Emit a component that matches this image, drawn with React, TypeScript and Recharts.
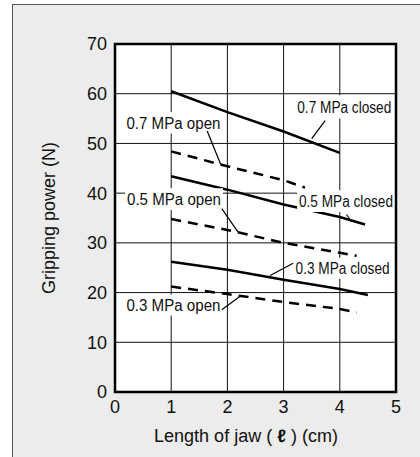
import React from 'react';
import {
  LineChart,
  Line,
  XAxis,
  YAxis,
  CartesianGrid,
  ReferenceArea,
  ReferenceLine,
} from 'recharts';

// jaw length (cm) and gripping power (N) for each curve
const len07Closed = [1, 2, 3, 4];
const pow07Closed = [60.5, 56.3, 52.4, 48.1];
const len07Open = [1, 2, 3, 3.38];
const pow07Open = [48.4, 45.4, 42.6, 41.1];
const len05Closed = [1, 2, 3, 4, 4.45];
const pow05Closed = [43.4, 40.7, 37.7, 35.2, 33.7];
const len05Open = [1, 2, 3, 4, 4.3];
const pow05Open = [34.8, 32.6, 30.0, 28.0, 27.4];
const len03Closed = [1, 2, 3, 4, 4.5];
const pow03Closed = [26.2, 24.6, 22.6, 20.7, 19.5];
const len03Open = [1, 2, 3, 4, 4.3];
const pow03Open = [21.2, 19.7, 18.1, 16.7, 16.0];

const xTicks = [0, 1, 2, 3, 4, 5];
const yTicks = [0, 10, 20, 30, 40, 50, 60, 70];

// note boxes: text, x range, y range, leader line from -> to
const notes = [
  { text: '0.7 MPa closed', x: [3.2, 4.96], y: [59.7, 55.0], lead: [[3.74, 54.6], [3.5, 50.95]] },
  { text: '0.7 MPa open', x: [0.16, 1.92], y: [56.3, 52.0], lead: [[1.64, 52.5], [1.88, 45.8]] },
  { text: '0.5 MPa open', x: [0.18, 1.92], y: [41.0, 36.6], lead: [[1.9, 36.9], [2.19, 32.15]] },
  { text: '0.5 MPa closed', x: [3.24, 4.98], y: [40.6, 36.2], lead: [[4.12, 35.7], [4.21, 34.2]] },
  { text: '0.3 MPa closed', x: [3.17, 4.93], y: [27.0, 22.8], lead: [[3.17, 25.9], [2.76, 23.45]] },
  { text: '0.3 MPa open', x: [0.18, 1.9], y: [19.6, 15.4], lead: [[1.9, 16.55], [2.22, 19.2]] },
];

const pts = (xs: number[], ys: number[]) => xs.map((x, i) => ({ x, y: ys[i] }));

const FONT = '"Liberation Sans", Arial, Helvetica, sans-serif';

const noteLabel = (text: string) => (props: any) => {
  const { x, y, width, height } = props.viewBox;
  return (
    <text
      x={x + width / 2}
      y={y + height / 2 + 5.8}
      textAnchor="middle"
      fontSize={16}
      fontFamily={FONT}
      fill="#111"
      textLength={94}
      lengthAdjust="spacingAndGlyphs"
    >
      {text}
    </text>
  );
};

const yLabel = (props: any) => {
  const { x, y, height } = props.viewBox;
  const cx = x + 55;
  const cy = y + height / 2;
  return (
    <text x={cx} y={cy} transform={`rotate(-90, ${cx}, ${cy})`} textAnchor="middle" fontSize={18} fontFamily={FONT} fill="#111">
      Gripping power (N)
    </text>
  );
};

const xLabel = (props: any) => {
  const { x, y, width } = props.viewBox;
  return (
    <text x={x + width / 2 - 9.5} y={y + 49.5} textAnchor="middle" fontSize={18} fontFamily={FONT} fill="#111">
      {'Length of jaw ( '}
      <tspan fontWeight="bold">ℓ</tspan>
      {' ) (cm)'}
    </text>
  );
};

const tickStyle = { fontSize: 18, fill: '#111', fontFamily: FONT };

const series = [
  { key: '07c', data: pts(len07Closed, pow07Closed), dash: undefined },
  { key: '07o', data: pts(len07Open, pow07Open), dash: '10 7' },
  { key: '05c', data: pts(len05Closed, pow05Closed), dash: undefined },
  { key: '05o', data: pts(len05Open, pow05Open), dash: '10 7' },
  { key: '03c', data: pts(len03Closed, pow03Closed), dash: undefined },
  { key: '03o', data: pts(len03Open, pow03Open), dash: '10 7' },
];

export default function App() {
  return (
    <div style={{ position: 'absolute', left: 0, top: 0, width: 420, height: 457, background: '#fff', overflow: 'hidden' }}>
      <div
        style={{
          position: 'absolute',
          left: 12,
          top: 4,
          width: 420,
          height: 470,
          borderLeft: '1.5px solid #555',
          borderTop: '1.5px solid #555',
          background: '#ececec',
        }}
      />
      <div style={{ position: 'absolute', left: 0, top: 0 }}>
        <LineChart width={420} height={457} margin={{ top: 44, right: 24, bottom: 0, left: 0 }}>
          <CartesianGrid stroke="#111" strokeWidth={1} fill="#fff" fillOpacity={1} horizontalValues={yTicks} verticalValues={xTicks} />
          <XAxis
            dataKey="x"
            type="number"
            domain={[0, 5]}
            ticks={xTicks}
            axisLine={false}
            tickLine={false}
            tick={tickStyle}
            height={65}
            allowDataOverflow
            label={xLabel}
          />
          <YAxis
            type="number"
            domain={[0, 70]}
            ticks={yTicks}
            axisLine={false}
            tickLine={false}
            tick={tickStyle}
            width={115}
            allowDataOverflow
            label={yLabel}
          />
          {series.map((s) => (
            <Line
              key={s.key}
              data={s.data}
              dataKey="y"
              type="linear"
              stroke="#000"
              strokeWidth={2.5}
              strokeDasharray={s.dash}
              dot={false}
              activeDot={false}
              isAnimationActive={false}
            />
          ))}
          {notes.map((n) => (
            <ReferenceArea
              key={n.text}
              x1={n.x[0]}
              x2={n.x[1]}
              y1={n.y[1]}
              y2={n.y[0]}
              fill="#fff"
              fillOpacity={1}
              stroke="none"
              zIndex={600}
              label={noteLabel(n.text)}
            />
          ))}
          {notes.map((n) => (
            <ReferenceLine
              key={n.text + '-lead'}
              segment={[
                { x: n.lead[0][0], y: n.lead[0][1] },
                { x: n.lead[1][0], y: n.lead[1][1] },
              ]}
              stroke="#000"
              strokeWidth={1.2}
              zIndex={650}
            />
          ))}
          <ReferenceArea x1={0} x2={5} y1={0} y2={70} fill="none" stroke="#000" strokeWidth={2.5} zIndex={700} />
        </LineChart>
      </div>
    </div>
  );
}
